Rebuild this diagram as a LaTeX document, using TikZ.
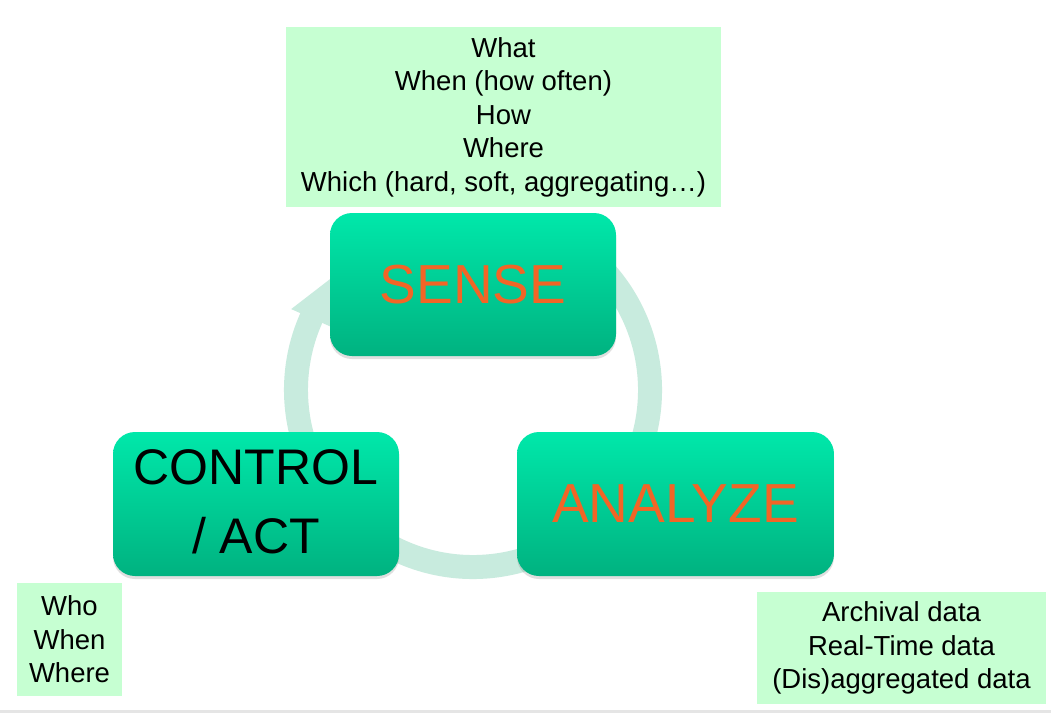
\documentclass[tikz,border=0pt]{standalone}
\usepackage{fontspec}
\setmainfont{Liberation Sans}
\usetikzlibrary{calc,shadows}
\definecolor{note}{RGB}{198,255,210}
\definecolor{ringc}{RGB}{200,235,222}
\definecolor{topg}{RGB}{0,232,170}
\definecolor{botg}{RGB}{0,178,128}
\definecolor{orangetxt}{RGB}{242,101,38}
\tikzset{
  stagebox/.style={rounded corners=22pt, top color=topg, bottom color=botg, draw=none,
    drop shadow={opacity=0.25, shadow xshift=0pt, shadow yshift=-3pt},
    align=center, inner sep=0pt},
  notebox/.style={fill=note, draw=none, align=center, inner sep=0pt,
    font=\fontsize{27.5}{33.5}\selectfont},
  bigword/.style={font=\fontsize{55}{60}\selectfont, text=orangetxt},
}
\begin{document}
\begin{tikzpicture}[x=1pt,y=-1pt]
\useasboundingbox (0,0) rectangle (1051,713);
\fill[white] (0,0) rectangle (1051,713);
\fill[black!10] (0,710) rectangle (1051,713);
% ring
\coordinate (c) at (473,390);
\draw[ringc, line width=24pt]
  ($(c)+({177*cos(-60)},{177*sin(-60)})$) arc[start angle=-60, end angle=205, radius=177];
\fill[ringc] ($(c)+({199*cos(204)},{199*sin(204)})$) -- ($(c)+({177*cos(224)},{177*sin(224)})$)
  -- ($(c)+({155*cos(204)},{155*sin(204)})$) -- cycle;
% stage boxes
\node[stagebox, bigword, minimum width=286pt, minimum height=143pt] (sense) at (473,284.5) {SENSE};
\node[stagebox, font=\fontsize{50}{69}\selectfont, minimum width=286pt, minimum height=144pt] (control) at (256,504) {\raisebox{4pt}{CONTROL}\\\raisebox{4pt}{/ ACT}};
\node[stagebox, bigword, minimum width=317pt, minimum height=144pt] (analyze) at (675.5,504) {ANALYZE};
% notes
\node[notebox, minimum width=435pt, minimum height=180pt] (topnote) at (503.5,117)
  {What\\When (how often)\\How\\Where\\Which (hard, soft, aggregating…)};
\node[notebox, minimum width=105pt, minimum height=113pt] (who) at (69.5,639.5)
  {Who\\When\\Where};
\node[notebox, minimum width=289pt, minimum height=112pt] (arch) at (901.5,648)
  {Archival data\\Real-Time data\\(Dis)aggregated data};
\end{tikzpicture}
\end{document}
